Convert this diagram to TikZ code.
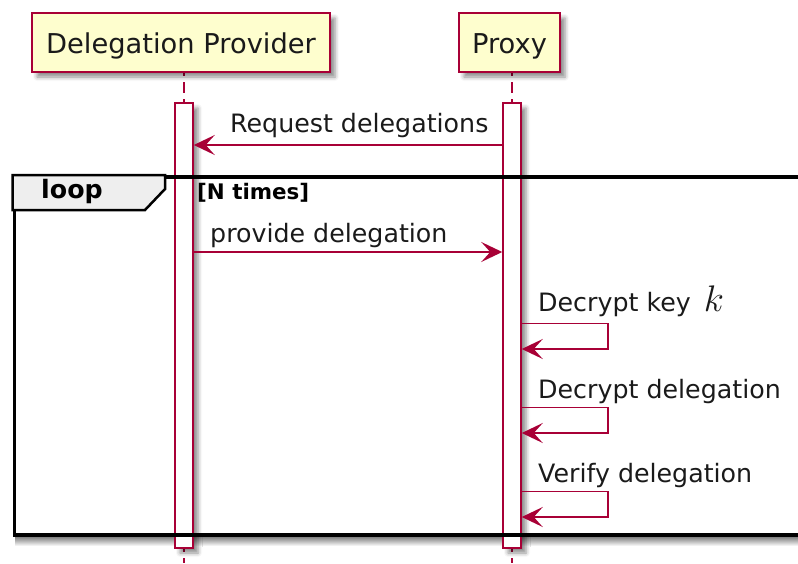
\documentclass[tikz,border=0pt]{standalone}
\usepackage{fix-cm}
\usepackage{fontspec}
\setmainfont{DejaVu Sans}
\usetikzlibrary{arrows.meta,shadows.blur}
\definecolor{umlred}{HTML}{A80036}
\definecolor{umlfill}{HTML}{FEFECE}
\definecolor{tabgray}{HTML}{EEEEEE}
\definecolor{inkgray}{HTML}{1A1A1A}
\begin{document}
\begin{tikzpicture}[x=1pt,y=-1pt,
  softshadow/.style={blur shadow={shadow xshift=5pt,shadow yshift=-5pt,
      shadow blur radius=4pt,shadow opacity=45}},
  participant/.style={draw=umlred,fill=umlfill,line width=2.5pt,
      minimum height=59pt,inner sep=0pt,text height=21pt,text depth=0pt,
      text=inkgray,font=\fontsize{27.3}{30}\selectfont,softshadow},
  actbar/.style={draw=umlred,fill=white,line width=1.5pt,
      minimum width=18pt,minimum height=445pt,inner sep=0pt,softshadow},
  lifeline/.style={umlred,line width=1.5pt,dash pattern=on 11pt off 6pt,dash phase=7pt},
  loopframe/.style={draw=black,line width=3.5pt,minimum width=800pt,
      minimum height=358pt,inner sep=0pt,anchor=north west},
  looptab/.style={draw=black,fill=tabgray,line width=2.5pt,line join=miter},
  framefade/.style={top color=black!60,bottom color=white,draw=none},
  msg/.style={umlred,line width=1.7pt,
      -{Stealth[length=21pt,width=20pt,inset=9pt]}},
  msgtext/.style={anchor=base west,inner sep=0pt,text=inkgray,
      font=\fontsize{25.3}{28}\selectfont},
  tabtext/.style={anchor=base west,inner sep=0pt,
      font=\fontsize{25.3}{28}\selectfont\bfseries},
  guardtext/.style={anchor=base west,inner sep=0pt,
      font=\fontsize{21.4}{24}\selectfont\bfseries}]
\useasboundingbox (0,0) rectangle (798,563);
\clip (0,0) rectangle (798,563);

% message levels
\coordinate (bottom) at (0,563);
\coordinate (m1) at (0,145);
\coordinate (m2) at (0,252);
\coordinate (s1a) at (0,323.5);
\coordinate (s1b) at (0,349);
\coordinate (s2a) at (0,407.5);
\coordinate (s2b) at (0,433);
\coordinate (s3a) at (0,491.5);
\coordinate (s3b) at (0,517);

% lifeline axes
\path (184,325.5) coordinate (dpx) (512,325.5) coordinate (pxx);

% lifelines
\draw[lifeline] (184,72) -- (dpx |- bottom);
\draw[lifeline] (512,72) -- (pxx |- bottom);

% shadow under the lower edge of the loop fragment
\shade[framefade] (15,535) rectangle (810,546);

% participants
\node[participant,minimum width=298pt] (dp) at (181,42.5) {Delegation Provider};
\node[participant,minimum width=101pt] (px) at (509.5,42.5) {Proxy};

% activation bars
\node[actbar] (dpbar) at (dpx) {};
\node[actbar] (pxbar) at (pxx) {};

% loop fragment
\node[loopframe] (loop) at (12.5,175) {};
\draw[looptab] (12.5,175) -- (165,175) -- (165,189) -- (145,210) -- (12.5,210) -- cycle;
\node[tabtext] (looplabel) at (41,198) {loop};
\node[guardtext] (guard) at (197,199.5) {[N times]};

% messages
\draw[msg] (pxbar.west |- m1) -- (dpbar.east |- m1);
\node[msgtext] (t1) at (230,132) {Request delegations};

\draw[msg] (dpbar.east |- m2) -- (pxbar.west |- m2);
\node[msgtext] (t2) at (210,242) {provide delegation};

\draw[msg] (pxbar.east |- s1a) -- ++(86,0) |- (pxbar.east |- s1b);
\node[msgtext] (t3) at (538,311) {Decrypt key\hspace{13pt}{\fontsize{37}{37}\selectfont$k$}};

\draw[msg] (pxbar.east |- s2a) -- ++(86,0) |- (pxbar.east |- s2b);
\node[msgtext] (t4) at (538,398) {Decrypt delegation};

\draw[msg] (pxbar.east |- s3a) -- ++(86,0) |- (pxbar.east |- s3b);
\node[msgtext] (t5) at (538,482) {Verify delegation};
\end{tikzpicture}
\end{document}
